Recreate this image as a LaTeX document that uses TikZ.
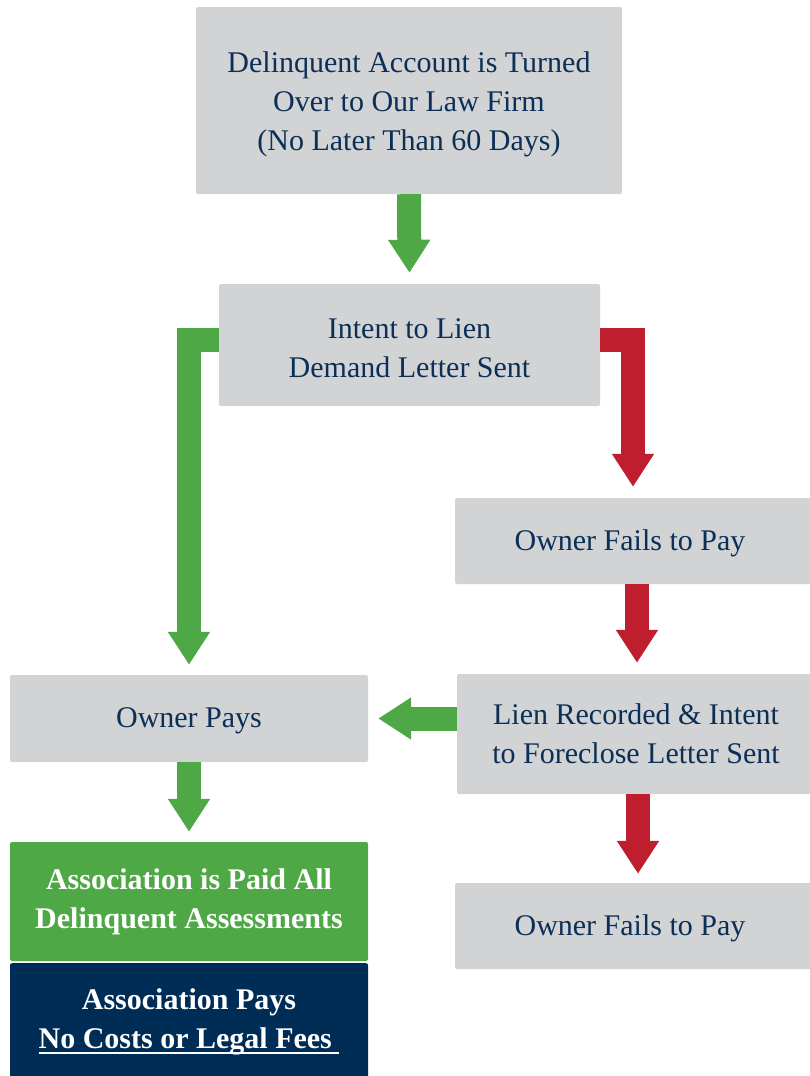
\documentclass[tikz,border=0pt]{standalone}
\usepackage{fontspec}
\setmainfont{Liberation Serif}
\usetikzlibrary{arrows.meta}
\definecolor{boxgray}{HTML}{D1D3D4}
\definecolor{inkblue}{HTML}{0C2F57}
\definecolor{okgreen}{HTML}{4EA845}
\definecolor{badred}{HTML}{BE1E2D}
\definecolor{navybox}{HTML}{002D56}
\newcommand\feeline[1]{\setbox0\hbox{#1}\rlap{\rule[-5pt]{\wd0}{2pt}}\box0}
\newcommand\firstdrop[1]{\rule{0pt}{#1}}
\tikzstyle{stage}=[fill=boxgray, rounded corners=2pt, text=inkblue, align=center, font=\fontsize{30}{39}\selectfont, inner sep=0pt, execute at begin node={\rule{0pt}{25pt}}]
\tikzstyle{result}=[stage, text=white, font=\fontsize{30}{39}\selectfont\bfseries]
\tikzstyle{fat}=[line width=24pt, line join=miter, -{Triangle[width=40pt,length=33pt]}, shorten >=10pt]
\tikzstyle{yes}=[fat, draw=okgreen]
\tikzstyle{no}=[fat, draw=badred]

\begin{document}
\begin{tikzpicture}[x=1pt, y=-1pt]
\useasboundingbox (0,0) rectangle (810,1076);
\draw (409,100.5) node[stage, minimum width=426pt, minimum height=187pt] (turned) {\firstdrop{29pt}Delinquent Account is Turned\\Over to Our Law Firm\\(No Later Than 60 Days)};
\draw (409.5,345) node[stage, minimum width=381pt, minimum height=122pt] (intent) {\firstdrop{27pt}Intent to Lien\\Demand Letter Sent};
\draw (637,541) node[stage, minimum width=364pt, minimum height=86pt] (fail1) {\hspace*{-14pt}Owner Fails to Pay};
\draw (638,734) node[stage, minimum width=362pt, minimum height=120pt] (lien) {\hspace*{-4pt}Lien Recorded \& Intent\\\hspace*{-4pt}to Foreclose Letter Sent};
\draw (637,926) node[stage, minimum width=364pt, minimum height=86pt] (fail2) {\hspace*{-14pt}Owner Fails to Pay};
\draw (189,718.5) node[stage, minimum width=358pt, minimum height=87pt] (pays) {Owner Pays};
\draw (189,901.5) node[result, fill=okgreen, minimum width=358pt, minimum height=119pt] (paid) {Association is Paid All\\Delinquent Assessments};
\draw (189,1027) node[result, fill=navybox, minimum width=358pt, minimum height=128pt, anchor=north] (nofees) at (189,963) {};
\draw (189,1018) node[result, fill=none] (nofeestext) {\firstdrop{29pt}Association Pays\\\feeline{No Costs or Legal Fees\ }};

\draw[yes, shorten >=11pt] (turned.south) -- (intent.north);
\draw[yes] ([yshift=5.5pt]intent.west) -| (pays.north);
\draw[no, shorten >=11pt] ([yshift=5.5pt]intent.east) -| ([xshift=-4pt]fail1.north);
\draw[no, shorten >=11pt] (fail1.south) -- (fail1.south |- lien.north);
\draw[no, shorten >=9pt] (lien.south) -- (lien.south |- fail2.north);
\draw[yes] (lien.west |- pays) -- (pays.east);
\draw[yes] (pays.south) -- (paid.north);
\end{tikzpicture}
\end{document}
